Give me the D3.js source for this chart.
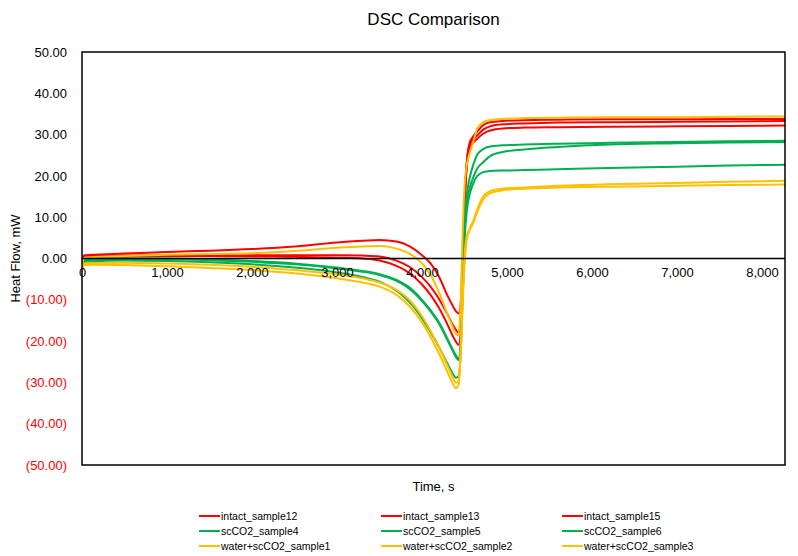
<!DOCTYPE html>
<html>
<head>
<meta charset="utf-8">
<script src="https://cdn.jsdelivr.net/npm/d3@7"></script>
<style>
  body { margin: 0; background: #fff; }
  svg { display: block; }
  text { font-family: "Liberation Sans", Arial, sans-serif; }
</style>
</head>
<body>
<svg id="chart" width="798" height="556"></svg>
<script>
// Sample times (s) shared by every run
const time = [0, 30, 100, 500, 1000, 1500, 2000, 2500, 3000, 3300, 3500, 3700, 3850, 4000, 4100, 4200,
  4300, 4360, 4400, 4430, 4455, 4480, 4505, 4530, 4560, 4600, 4650, 4720, 4800, 4950, 5200, 5600,
  6200, 7000, 7600, 8270];

// Heat flow (mW) per run
const intact12 = [0.0, 0.5, 0.6, 0.7, 0.8, 0.8, 0.8, 0.8, 0.8, 0.7, 0.5, -0.5, -2.0, -4.5, -6.8, -9.8,
  -13.5, -16.0, -17.3, -18.0, -15, 0, 16, 24, 27.5, 28.8, 29.8, 31.2, 32.0, 32.5, 32.7, 32.9,
  33.0, 33.1, 33.2, 33.3];
const intact13 = [0.2, 0.8, 0.9, 1.2, 1.6, 1.9, 2.3, 2.9, 3.9, 4.3, 4.5, 4.1, 3.0, 0.8, -1.2, -4.4,
  -9.0, -11.4, -12.8, -13.3, -11, 2, 16, 23, 26.5, 28.0, 29.0, 30.2, 31.0, 31.5, 31.7, 31.8,
  31.9, 32.0, 32.1, 32.2];
const intact15 = [-0.3, 0.3, 0.4, 0.5, 0.6, 0.6, 0.5, 0.4, 0.2, 0.0, -0.5, -1.8, -3.5, -6.3, -8.8, -12.0,
  -16.0, -18.7, -20.2, -20.9, -18, -2, 15, 24, 28, 29.5, 30.8, 32.3, 33.0, 33.3, 33.5, 33.6,
  33.7, 33.7, 33.8, 33.8];
const scco2_4 = [-1.0, -0.3, -0.2, 0.0, 0.0, -0.2, -0.6, -1.2, -2.2, -3.0, -3.8, -5.2, -7.0, -10.0, -12.5, -15.5,
  -19.5, -22.0, -23.5, -24.2, -20, -3, 10, 16, 19.5, 22.5, 25.2, 26.5, 27.1, 27.4, 27.6, 27.8,
  28.0, 28.2, 28.4, 28.5];
const scco2_5 = [-1.2, -0.5, -0.4, -0.2, -0.2, -0.4, -0.8, -1.4, -2.4, -3.2, -4.0, -5.4, -7.3, -10.3, -12.8, -15.8,
  -19.8, -22.3, -23.9, -24.6, -21, -5, 8, 14, 17, 19.5, 21.8, 23.3, 24.8, 25.8, 26.4, 27.0,
  27.6, 27.9, 28.1, 28.2];
const scco2_6 = [-1.5, -0.8, -0.7, -0.5, -0.6, -0.9, -1.4, -2.2, -3.4, -4.5, -5.6, -7.8, -10.5, -14.5, -17.8, -21.5,
  -25.5, -27.8, -28.9, -28.5, -23, -8, 6, 12, 15.5, 18, 20.0, 20.9, 21.2, 21.3, 21.4, 21.6,
  21.9, 22.2, 22.5, 22.7];
const water1 = [-1.5, 0.2, 0.3, 0.6, 0.9, 1.1, 1.3, 1.8, 2.6, 2.9, 3.0, 2.4, 1.2, -1.2, -4.0, -8.2,
  -13.5, -16.5, -18.3, -18.6, -10, 8, 19, 23, 25.5, 28, 31.5, 33.0, 33.5, 33.8, 34.0, 34.1,
  34.2, 34.2, 34.3, 34.4];
const water2 = [-2.5, -1.2, -1.1, -1.0, -1.2, -1.5, -2.0, -2.8, -3.8, -4.8, -5.8, -7.6, -10.0, -14.0, -17.5, -21.5,
  -26.0, -28.7, -30.1, -29.5, -22, -8, 2, 5.5, 7.2, 9.0, 12.0, 15.0, 16.3, 16.9, 17.2, 17.6,
  18.0, 18.3, 18.6, 18.8];
const water3 = [-3.0, -1.6, -1.5, -1.6, -1.9, -2.3, -2.8, -3.6, -4.8, -5.8, -6.8, -8.8, -11.5, -15.5, -19.0, -23.0,
  -27.5, -30.2, -31.4, -30.5, -23, -10, 0, 5, 6.8, 8.5, 11.3, 14.3, 15.8, 16.5, 16.9, 17.2,
  17.4, 17.6, 17.8, 17.9];

const seriesNames = ["intact_sample12", "intact_sample13", "intact_sample15",
  "scCO2_sample4", "scCO2_sample5", "scCO2_sample6",
  "water+scCO2_sample1", "water+scCO2_sample2", "water+scCO2_sample3"];
const seriesValues = [intact12, intact13, intact15, scco2_4, scco2_5, scco2_6, water1, water2, water3];
const seriesColors = ["#FF0000", "#FF0000", "#FF0000", "#00B050", "#00B050", "#00B050",
  "#FFC000", "#FFC000", "#FFC000"];

const xTicks = [0, 1000, 2000, 3000, 4000, 5000, 6000, 7000, 8000];
const yTicks = [-50, -40, -30, -20, -10, 0, 10, 20, 30, 40, 50];

const svg = d3.select("#chart");
const plot = { left: 82, right: 785, top: 52, bottom: 465 };

const x = d3.scaleLinear().domain([0, 8270]).range([plot.left, plot.right]);
const y = d3.scaleLinear().domain([-50, 50]).range([plot.bottom, plot.top]);

// Title
svg.append("text")
  .attr("x", (plot.left + plot.right) / 2).attr("y", 25)
  .attr("text-anchor", "middle")
  .attr("font-size", 17).attr("fill", "#000")
  .text("DSC Comparison");

// Y axis labels: negatives in red with parentheses
const fmt2 = d3.format(".2f");
const yAxis = d3.axisLeft(y).tickValues(yTicks).tickSize(0).tickPadding(15)
  .tickFormat(v => v < 0 ? "(" + fmt2(-v) + ")" : fmt2(v));
const gy = svg.append("g").attr("transform", `translate(${plot.left},0)`).call(yAxis);
gy.select(".domain").remove();
gy.selectAll("text").attr("font-size", 13).attr("font-family", "Liberation Sans, Arial, sans-serif")
  .attr("fill", d => d < 0 ? "#FF0000" : "#000");

// Series lines
const line = d3.line()
  .x((d, i) => x(time[i]))
  .y(d => y(d))
  .curve(d3.curveMonotoneX);

svg.append("clipPath").attr("id", "plotclip")
  .append("rect").attr("x", plot.left).attr("y", plot.top)
  .attr("width", plot.right - plot.left).attr("height", plot.bottom - plot.top);

const gLines = svg.append("g").attr("clip-path", "url(#plotclip)");
seriesValues.forEach((vals, k) => {
  gLines.append("path")
    .datum(vals)
    .attr("d", line)
    .attr("fill", "none")
    .attr("stroke", seriesColors[k])
    .attr("stroke-width", 2)
    .attr("stroke-linejoin", "round");
});

// Zero line (category axis crossing)
svg.append("line")
  .attr("x1", plot.left).attr("x2", plot.right)
  .attr("y1", y(0)).attr("y2", y(0))
  .attr("stroke", "#000").attr("stroke-width", 1.5);

// Plot area border
svg.append("rect")
  .attr("x", plot.left).attr("y", plot.top)
  .attr("width", plot.right - plot.left).attr("height", plot.bottom - plot.top)
  .attr("fill", "none").attr("stroke", "#000").attr("stroke-width", 1.5);

// X axis labels along the zero line
const xAxis = d3.axisBottom(x).tickValues(xTicks).tickSize(0).tickPadding(9)
  .tickFormat(d3.format(","));
const gx = svg.append("g").attr("transform", `translate(0,${y(0)})`).call(xAxis);
gx.select(".domain").remove();
gx.selectAll("text").attr("font-size", 13).attr("font-family", "Liberation Sans, Arial, sans-serif")
  .attr("fill", "#000");

// Axis titles
svg.append("text")
  .attr("x", (plot.left + plot.right) / 2).attr("y", 491)
  .attr("text-anchor", "middle").attr("font-size", 13).attr("fill", "#000")
  .text("Time, s");
svg.append("text")
  .attr("transform", `translate(20,${(plot.top + plot.bottom) / 2}) rotate(-90)`)
  .attr("text-anchor", "middle").attr("font-size", 13).attr("fill", "#000")
  .text("Heat Flow, mW");

// Legend: three columns, one row per group
const legX = [199, 381, 562];
const legY = [516, 531, 546];
const legend = svg.append("g");
seriesNames.forEach((name, k) => {
  const cx = legX[k % 3], cy = legY[Math.floor(k / 3)];
  legend.append("line")
    .attr("x1", cx).attr("x2", cx + 21).attr("y1", cy).attr("y2", cy)
    .attr("stroke", seriesColors[k]).attr("stroke-width", 2);
  legend.append("text")
    .attr("x", cx + 22).attr("y", cy).attr("dy", "0.35em")
    .attr("font-size", 10.5).attr("fill", "#000")
    .text(name);
});
</script>
</body>
</html>
